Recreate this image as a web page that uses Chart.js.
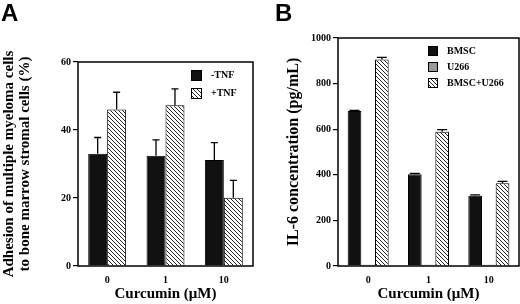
<!DOCTYPE html>
<html>
<head>
<meta charset="utf-8">
<script src="https://cdn.jsdelivr.net/npm/chart.js@4.4.1/dist/chart.umd.min.js"></script>
<style>
  body { margin: 0; background: #fff; }
  #wrap { position: relative; width: 520px; height: 304px; overflow: hidden; }
  .panel { position: absolute; top: 0; width: 260px; height: 304px; }
  .tag { position: absolute; top: -1px; font: bold 24px "Liberation Sans", Arial, sans-serif; color: #000; }
</style>
</head>
<body>
<div id="wrap">
  <div class="panel" style="left:0"><canvas id="chartA" width="260" height="304"></canvas></div>
  <div class="panel" style="left:260px"><canvas id="chartB" width="260" height="304"></canvas></div>
  <div class="tag" style="left:1px">A</div>
  <div class="tag" style="left:275px">B</div>
</div>
<script>
// curcumin doses (x categories)
const doses = ['0', '1', '10'];

// panel A: adhesion (%)
const noTnf = [33, 32.4, 31.2];
const noTnfErr = [4.8, 4.7, 5.1];
const plusTnf = [46, 47.3, 20.1];
const plusTnfErr = [5.1, 4.8, 5.1];
const ticksA = [0, 20, 40, 60];

// panel B: IL-6 (pg/mL)
const bmsc = [680, 402, 308];
const bmscErr = [3, 4, 4];
const u266 = [5, 5, 5];
const coCulture = [906, 589, 363];
const coCultureErr = [9, 9, 8];
const ticksB = [0, 200, 400, 600, 800, 1000];

const serif = '"Liberation Serif", "Times New Roman", serif';

function hatch(ctx) {
  const c = document.createElement('canvas');
  c.width = 4; c.height = 4;
  const g = c.getContext('2d');
  g.fillStyle = '#fff';
  g.fillRect(0, 0, 4, 4);
  g.strokeStyle = '#222';
  g.lineWidth = 1;
  g.beginPath();
  g.moveTo(-1, -1); g.lineTo(5, 5);
  g.moveTo(-1, 3); g.lineTo(1, 5);
  g.moveTo(3, -1); g.lineTo(5, 1);
  g.stroke();
  return ctx.createPattern(c, 'repeat');
}

const errorBars = {
  id: 'errorBars',
  afterDatasetsDraw(chart, args, opts) {
    const ctx = chart.ctx;
    const y = chart.scales.y;
    ctx.save();
    ctx.strokeStyle = '#000';
    ctx.lineWidth = 1.3;
    chart.data.datasets.forEach((ds, i) => {
      if (!ds.errors) return;
      chart.getDatasetMeta(i).data.forEach((bar, j) => {
        const top = y.getPixelForValue(ds.data[j] + ds.errors[j]);
        ctx.beginPath();
        ctx.moveTo(bar.x, bar.y);
        ctx.lineTo(bar.x, top);
        ctx.moveTo(bar.x - opts.cap, top);
        ctx.lineTo(bar.x + opts.cap, top);
        ctx.stroke();
      });
    });
    ctx.restore();
  }
};

// box round the plot + legend inside it
const frameLegend = {
  id: 'frameLegend',
  afterDraw(chart, args, opts) {
    const ctx = chart.ctx;
    const a = chart.chartArea;
    ctx.save();
    ctx.strokeStyle = '#000';
    ctx.lineWidth = 1.5;
    ctx.strokeRect(a.left, a.top, a.right - a.left, a.bottom - a.top);
    ctx.font = 'bold 10px ' + serif;
    ctx.textBaseline = 'middle';
    chart.data.datasets.forEach((ds, i) => {
      const x = a.right - opts.dx;
      const y = a.top + opts.dy + i * opts.step;
      ctx.fillStyle = ds.backgroundColor;
      ctx.fillRect(x, y, opts.box, opts.box);
      ctx.lineWidth = 1;
      ctx.strokeRect(x + 0.5, y + 0.5, opts.box - 1, opts.box - 1);
      ctx.fillStyle = '#000';
      ctx.fillText(ds.label, x + opts.box + 9, y + opts.box / 2);
    });
    ctx.restore();
  }
};

function makeChart(id, datasets, ticks, yTitle, yTitleSize, yTitlePad, pad, catPct, legend, cap) {
  return new Chart(document.getElementById(id), {
    type: 'bar',
    data: { labels: doses, datasets: datasets },
    plugins: [errorBars, frameLegend],
    options: {
      responsive: false,
      animation: false,
      layout: { padding: pad },
      datasets: { bar: { categoryPercentage: catPct, barPercentage: 1, borderColor: '#000', borderWidth: 1 } },
      plugins: {
        legend: { display: false },
        tooltip: { enabled: false },
        errorBars: { cap: cap },
        frameLegend: legend
      },
      scales: {
        x: {
          grid: { display: false, drawTicks: false },
          border: { display: false },
          ticks: { color: '#000', padding: 8, font: { family: serif, size: 10, weight: 'bold' } },
          title: {
            display: true, text: 'Curcumin (μM)', color: '#000',
            font: { family: serif, size: 15, weight: 'bold', lineHeight: 1.1 },
            padding: { top: 0, bottom: 2 }
          },
          afterFit(scale) { scale.height = 38; }
        },
        y: {
          min: ticks[0],
          max: ticks[ticks.length - 1],
          afterBuildTicks(scale) { scale.ticks = ticks.map(v => ({ value: v })); },
          grid: { drawOnChartArea: false, tickLength: 5, color: '#000', lineWidth: 1.2 },
          border: { display: false },
          ticks: {
            color: '#000', padding: 2, font: { family: serif, size: 10, weight: 'bold' },
            callback: v => String(v)
          },
          title: {
            display: true, text: yTitle, color: '#000',
            font: { family: serif, size: yTitleSize, weight: 'bold', lineHeight: 1.05 },
            padding: { top: yTitlePad, bottom: 0 }
          },
          afterFit(scale) { scale.width = 78; }
        }
      }
    }
  });
}

const ctxA = document.getElementById('chartA').getContext('2d');
makeChart('chartA', [
  { label: '-TNF', data: noTnf, errors: noTnfErr, backgroundColor: '#111' },
  { label: '+TNF', data: plusTnf, errors: plusTnfErr, backgroundColor: hatch(ctxA) }
], ticksA, ['Adhesion of multiple myeloma cells', 'to bone marrow stromal cells (%)'], 15, 1,
  { top: 62, right: 7, bottom: 0, left: 0 }, 0.65,
  { dx: 62, dy: 8, step: 18, box: 11 }, 3.5);

const ctxB = document.getElementById('chartB').getContext('2d');
makeChart('chartB', [
  { label: 'BMSC', data: bmsc, errors: bmscErr, backgroundColor: '#111' },
  { label: 'U266', data: u266, backgroundColor: '#999' },
  { label: 'BMSC+U266', data: coCulture, errors: coCultureErr, backgroundColor: hatch(ctxB) }
], ticksB, 'IL-6 concentration (pg/mL)', 16, 25,
  { top: 38, right: 1, bottom: 0, left: 0 }, 0.68,
  { dx: 91, dy: 8, step: 16, box: 10 }, 5);
</script>
</body>
</html>
